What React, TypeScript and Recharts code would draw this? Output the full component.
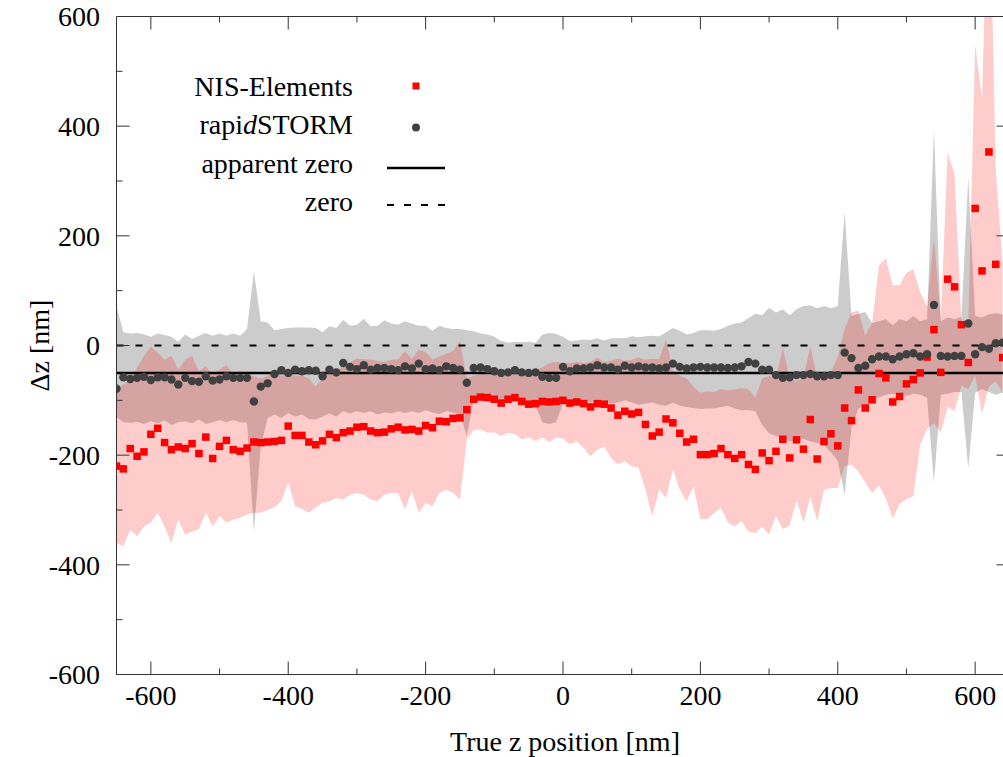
import React from 'react';
import { ComposedChart, Area, Line, XAxis, YAxis, ReferenceLine, Legend, Label } from 'recharts';

// True z position [nm], one sample every 10 nm
const zPositions = [
  -650, -640, -630, -620, -610, -600, -590, -580, -570, -560,
  -550, -540, -530, -520, -510, -500, -490, -480, -470, -460,
  -450, -440, -430, -420, -410, -400, -390, -380, -370, -360,
  -350, -340, -330, -320, -310, -300, -290, -280, -270, -260,
  -250, -240, -230, -220, -210, -200, -190, -180, -170, -160,
  -150, -140, -130, -120, -110, -100, -90, -80, -70, -60,
  -50, -40, -30, -20, -10, 0, 10, 20, 30, 40,
  50, 60, 70, 80, 90, 100, 110, 120, 130, 140,
  150, 160, 170, 180, 190, 200, 210, 220, 230, 240,
  250, 260, 270, 280, 290, 300, 310, 320, 330, 340,
  350, 360, 370, 380, 390, 400, 410, 420, 430, 440,
  450, 460, 470, 480, 490, 500, 510, 520, 530, 540,
  550, 560, 570, 580, 590, 600, 610, 620, 630, 640,
];

// NIS-Elements mean Δz
const nisElements = [
  -220, -225, -188, -202, -194, -162, -151, -177, -190, -185,
  -188, -179, -197, -167, -206, -184, -173, -190, -193, -187,
  -176, -177, -176, -175, -173, -147, -164, -164, -176, -181,
  -174, -162, -168, -159, -156, -149, -148, -156, -159, -158,
  -152, -149, -154, -153, -156, -146, -150, -138, -139, -133,
  -132, -117, -98, -94, -95, -98, -105, -98, -95, -102,
  -107, -106, -102, -103, -102, -100, -105, -103, -106, -112,
  -106, -107, -114, -127, -120, -125, -122, -144, -165, -158,
  -134, -141, -160, -176, -171, -199, -199, -197, -188, -199,
  -206, -199, -217, -226, -196, -210, -193, -171, -205, -172,
  -189, -135, -207, -175, -161, -183, -114, -137, -81, -114,
  -99, -51, -59, -103, -93, -70, -62, -50, -21, 29,
  -49, 121, 107, 38, -31, 250, 136, 353, 148, -22,
];

// rapidSTORM mean Δz
const rapidStorm = [
  -79, -58, -61, -59, -57, -63, -58, -58, -62, -71,
  -59, -65, -66, -56, -64, -62, -56, -59, -59, -59,
  -102, -75, -69, -52, -45, -50, -44, -47, -45, -46,
  -56, -44, -49, -32, -39, -43, -36, -44, -41, -41,
  -43, -45, -38, -42, -33, -43, -42, -45, -38, -41,
  -44, -68, -41, -40, -43, -47, -50, -49, -45, -49,
  -50, -49, -57, -59, -59, -39, -47, -42, -42, -40,
  -36, -40, -40, -44, -37, -40, -38, -40, -40, -42,
  -40, -33, -39, -42, -40, -39, -40, -40, -40, -41,
  -40, -38, -30, -33, -44, -44, -54, -59, -58, -54,
  -54, -52, -56, -56, -54, -54, -13, -23, -41, -37,
  -25, -20, -20, -25, -20, -16, -14, -20, -16, 74,
  -19, -20, -19, -19, 40, -16, -3, -6, 4, 5,
];

// rapidSTORM spread (upper / lower edge)
const stormHigh = [
  72, 24, 22, 23, 20, 16, 22, 19, 16, 7,
  20, 12, 18, 23, 18, 22, 18, 22, 18, 30,
  135, 44, 42, 28, 30, 32, 33, 33, 33, 32,
  24, 35, 32, 47, 36, 38, 49, 35, 36, 46,
  40, 38, 44, 40, 36, 36, 27, 36, 32, 30,
  30, 28, 26, 22, 20, 16, 8, 5, 7, 6,
  7, 5, 20, 23, 21, 16, 8, 9, 11, 10,
  13, 9, 13, 13, 13, 17, 15, 17, 18, 17,
  24, 32, 27, 20, 23, 28, 28, 27, 30, 36,
  40, 42, 50, 58, 55, 69, 60, 66, 55, 66,
  72, 73, 68, 72, 68, 72, 244, 54, 58, 61,
  41, 44, 48, 37, 48, 44, 54, 44, 48, 394,
  44, 51, 48, 52, 306, 54, 51, 57, 59, 57,
];
const stormLow = [
  -130, -140, -141, -139, -143, -138, -142, -137, -145, -140,
  -138, -142, -135, -143, -140, -136, -140, -136, -140, -141,
  -339, -185, -132, -126, -132, -123, -130, -126, -134, -135,
  -130, -124, -130, -120, -124, -120, -123, -120, -126, -122,
  -124, -120, -123, -120, -123, -118, -122, -125, -120, -122,
  -125, -165, -100, -98, -102, -100, -104, -102, -100, -105,
  -103, -110, -140, -143, -140, -105, -98, -100, -102, -104,
  -100, -102, -106, -104, -100, -104, -108, -106, -104, -108,
  -110, -104, -110, -112, -114, -116, -115, -115, -112, -110,
  -115, -118, -118, -120, -145, -160, -165, -168, -175, -173,
  -170, -175, -178, -182, -195, -210, -272, -150, -115, -110,
  -100, -95, -90, -88, -90, -92, -88, -90, -95, -250,
  -90, -88, -85, -85, -224, -86, -80, -85, -90, -86,
];

// NIS-Elements spread (upper / lower edge)
const nisHigh = [
  -80, -71, -62, -40, -19, -2, -13, -26, -19, -44,
  -26, -19, -47, -38, -53, -44, -35, -53, -53, -53,
  -56, -60, -55, -52, -55, -52, -55, -55, -60, -75,
  -60, -50, -45, -38, -30, -24, -25, -26, -28, -30,
  -26, -25, -10, -24, -8, -12, -25, -20, -15, -10,
  8, -60, -55, -52, -53, -52, -55, -52, -54, -52,
  -50, -45, -40, -32, -30, -32, -32, -30, -32, -30,
  -22, -30, -28, -24, -28, -26, -22, -26, -24, -25,
  11, -45, -55, -60, -75, -86, -84, -85, -80, -82,
  -80, -78, -80, -95, -60, -55, -60, -4, -60, -65,
  -58, -2, -60, -55, -50, -20, 30, 60, 64, 18,
  41, 146, 159, 110, 110, 133, 139, 97, 71, 195,
  51, 352, 312, 44, 40, 549, 449, 910, 320, 150,
];
const nisLow = [
  -360, -366, -336, -348, -330, -323, -305, -330, -360, -317,
  -345, -339, -335, -305, -330, -311, -323, -318, -314, -308,
  -305, -305, -300, -295, -284, -250, -293, -298, -305, -295,
  -287, -284, -278, -281, -272, -269, -272, -281, -284, -272,
  -269, -269, -299, -265, -305, -287, -293, -269, -263, -269,
  -281, -171, -154, -153, -159, -158, -165, -159, -162, -171,
  -168, -174, -168, -176, -168, -170, -180, -175, -187, -202,
  -190, -184, -205, -217, -211, -220, -223, -263, -311, -263,
  -278, -226, -263, -284, -257, -317, -317, -305, -296, -323,
  -330, -320, -339, -342, -330, -345, -311, -335, -328, -282,
  -323, -276, -320, -263, -260, -260, -220, -217, -230, -250,
  -269, -255, -279, -315, -289, -280, -275, -181, -152, -142,
  -158, -112, -120, -73, -80, -55, -125, -75, -65, -86,
];

const apparentZero = -50;
const trueZero = 0;

const xTicks = [-600, -500, -400, -300, -200, -100, 0, 100, 200, 300, 400, 500, 600];
const yTicks = [-600, -500, -400, -300, -200, -100, 0, 100, 200, 300, 400, 500, 600];

const data = zPositions.map((x, i) => ({
  x,
  nis: nisElements[i],
  storm: rapidStorm[i],
  stormBand: [stormLow[i], stormHigh[i]],
  nisBand: [nisLow[i], nisHigh[i]],
}));

const FONT = '"Liberation Serif", "Times New Roman", serif';
const AXIS = '#333';
const FS = 28;

const isMajor = (v: number) => Math.abs(v) % 200 === 0;

const BottomTick = ({ x, y, payload }: any) => (
  <g>
    <line x1={x} x2={x} y1={y} y2={y - (isMajor(payload.value) ? 13 : 6)} stroke={AXIS} />
    {isMajor(payload.value) && (
      <text x={x} y={y + 30} textAnchor="middle" fontFamily={FONT} fontSize={FS} fill="#000">
        {payload.value}
      </text>
    )}
  </g>
);

const TopTick = ({ x, y, payload }: any) => (
  <line x1={x} x2={x} y1={y} y2={y + (isMajor(payload.value) ? 13 : 6)} stroke={AXIS} />
);

const LeftTick = ({ x, y, payload }: any) => (
  <g>
    <line x1={x} x2={x + (isMajor(payload.value) ? 13 : 6)} y1={y} y2={y} stroke={AXIS} />
    {isMajor(payload.value) && (
      <text x={x - 16.5} y={y} dy="0.35em" textAnchor="end" fontFamily={FONT} fontSize={FS} fill="#000">
        {payload.value}
      </text>
    )}
  </g>
);

const RightTick = ({ x, y, payload }: any) => (
  <line x1={x} x2={x - (isMajor(payload.value) ? 13 : 6)} y1={y} y2={y} stroke={AXIS} />
);

const renderSquare = (p: any) => (
  <rect key={`n${p.index}`} x={p.cx - 3.75} y={p.cy - 3.75} width={7.5} height={7.5} fill="#ff0000" />
);

const renderDot = (p: any) => (
  <circle key={`s${p.index}`} cx={p.cx} cy={p.cy} r={4.2} fill="#404040" />
);

const KeyBox = () => (
  <svg width={460} height={230} style={{ position: 'absolute', left: 0, top: 0 }}>
    <g fontFamily={FONT} fontSize={FS} fill="#000" textAnchor="end">
      <text x={353} y={96}>NIS-Elements</text>
      <text x={353} y={134}>
        rapi<tspan fontStyle="italic">d</tspan>STORM
      </text>
      <text x={353} y={173}>apparent zero</text>
      <text x={353} y={211}>zero</text>
    </g>
    <rect x={412.5} y={82.5} width={7} height={7} fill="#ff0000" />
    <circle cx={416} cy={127.5} r={4} fill="#404040" />
    <line x1={387} x2={445} y1={168} y2={168} stroke="#000" strokeWidth={2.5} />
    <line x1={387} x2={445} y1={205} y2={205} stroke="#000" strokeWidth={2} strokeDasharray="7 10" />
  </svg>
);

export default function App() {
  return (
    <div
      style={{
        position: 'absolute',
        left: 0,
        top: 0,
        width: 1003,
        height: 757,
        overflow: 'hidden',
        background: '#fff',
      }}
    >
      <ComposedChart
        width={1030}
        height={757}
        data={data}
        margin={{ top: 15.5, right: 0.5, bottom: 5.5, left: 56.5 }}
      >
        <XAxis
          dataKey="x"
          type="number"
          domain={[-650, 650]}
          ticks={xTicks}
          allowDataOverflow
          height={77}
          tickSize={0}
          tickMargin={0}
          tickLine={false}
          tick={<BottomTick />}
          axisLine={{ stroke: AXIS }}
          interval={0}
        >
          <Label
            value="True z position [nm]"
            content={() => (
              <text x={565} y={751} textAnchor="middle" fontFamily={FONT} fontSize={FS} fill="#000">
                True z position [nm]
              </text>
            )}
          />
        </XAxis>
        <XAxis
          xAxisId="top"
          orientation="top"
          type="number"
          dataKey="x"
          domain={[-650, 650]}
          ticks={xTicks}
          allowDataOverflow
          height={1}
          tickSize={0}
          tickMargin={0}
          tickLine={false}
          tick={<TopTick />}
          axisLine={{ stroke: AXIS }}
          interval={0}
        />
        <YAxis
          type="number"
          domain={[-600, 600]}
          ticks={yTicks}
          allowDataOverflow
          width={60}
          tickSize={0}
          tickMargin={0}
          tickLine={false}
          tick={<LeftTick />}
          axisLine={{ stroke: AXIS }}
          interval={0}
        >
          <Label
            value="Δz [nm]"
            content={() => (
              <text
                x={39}
                y={345.5}
                transform="rotate(-90 39 345.5)"
                textAnchor="middle"
                dominantBaseline="central"
                fontFamily={FONT}
                fontSize={FS}
                fill="#000"
              >
                Δz [nm]
              </text>
            )}
          />
        </YAxis>
        <YAxis
          yAxisId="right"
          orientation="right"
          type="number"
          domain={[-600, 600]}
          ticks={yTicks}
          allowDataOverflow
          width={20}
          tickSize={0}
          tickMargin={0}
          tickLine={false}
          tick={<RightTick />}
          axisLine={{ stroke: AXIS }}
          interval={0}
        />
        <Legend
          layout="horizontal"
          verticalAlign="middle"
          align="center"
          content={() => <KeyBox />}
          wrapperStyle={{ left: 0, top: 0, width: 460, height: 230 }}
        />
        <Area
          type="linear"
          dataKey="stormBand"
          stroke="none"
          fill="#000000"
          fillOpacity={0.2}
          isAnimationActive={false}
          activeDot={false}
        />
        <Area
          type="linear"
          dataKey="nisBand"
          stroke="none"
          fill="#ff0000"
          fillOpacity={0.2}
          isAnimationActive={false}
          activeDot={false}
        />
        <ReferenceLine y={trueZero} stroke="#000" strokeWidth={2} strokeDasharray="7 12" />
        <ReferenceLine y={apparentZero} stroke="#000" strokeWidth={2.5} />
        <Line
          type="linear"
          dataKey="nis"
          stroke="none"
          dot={renderSquare}
          activeDot={false}
          isAnimationActive={false}
        />
        <Line
          type="linear"
          dataKey="storm"
          stroke="none"
          dot={renderDot}
          activeDot={false}
          isAnimationActive={false}
        />
      </ComposedChart>
    </div>
  );
}
